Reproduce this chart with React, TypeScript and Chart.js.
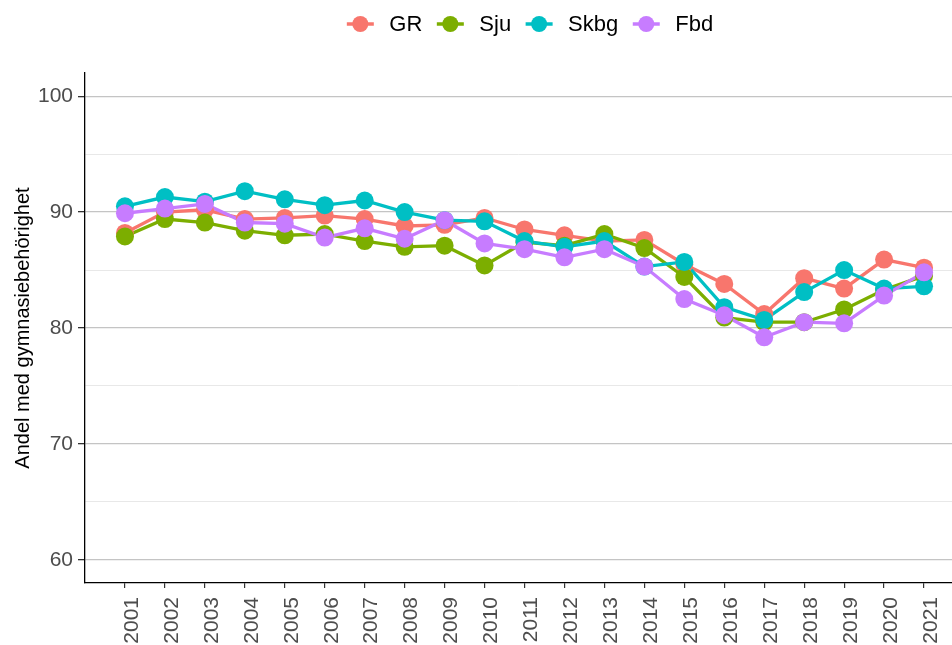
import React, { useEffect, useRef } from "react";
import { Chart, registerables } from "chart.js";

Chart.register(...registerables);

const years = [2001, 2002, 2003, 2004, 2005, 2006, 2007, 2008, 2009, 2010, 2011, 2012, 2013, 2014, 2015, 2016, 2017, 2018, 2019, 2020, 2021];
const seriesNames = ["GR", "Sju", "Skbg", "Fbd"];
const seriesColors = ["#F8766D", "#7CAE00", "#00BFC4", "#C77CFF"];
const grValues = [88.2, 90.0, 90.2, 89.4, 89.5, 89.7, 89.4, 88.8, 88.9, 89.5, 88.5, 88.0, 87.5, 87.6, 85.5, 83.8, 81.2, 84.3, 83.4, 85.9, 85.2];
const sjuValues = [87.9, 89.4, 89.1, 88.4, 88.0, 88.1, 87.5, 87.0, 87.1, 85.4, 87.4, 87.1, 88.1, 86.9, 84.4, 80.9, 80.5, 80.5, 81.6, 83.3, 84.5];
const skbgValues = [90.5, 91.3, 90.9, 91.8, 91.1, 90.6, 91.0, 90.0, 89.3, 89.2, 87.5, 87.0, 87.5, 85.3, 85.7, 81.8, 80.7, 83.1, 85.0, 83.4, 83.6];
const fbdValues = [89.9, 90.3, 90.7, 89.1, 89.0, 87.8, 88.6, 87.7, 89.3, 87.3, 86.8, 86.1, 86.8, 85.3, 82.5, 81.1, 79.2, 80.5, 80.4, 82.8, 84.8];
const yTickValues = [60, 65, 70, 75, 80, 85, 90, 95, 100];
const yAxisTitle = "Andel med gymnasiebehörighet";

const FONT = "'Liberation Sans', Arial, sans-serif";

const legendPlugin = {
  id: "ggLegend",
  afterDraw(chart: any) {
    const ctx = chart.ctx;
    ctx.save();
    ctx.font = `22px ${FONT}`;
    const keyHalf = 13.5;
    const keyToText = 29;
    const textToKey = 28;
    const widths = seriesNames.map((n) => ctx.measureText(n).width);
    let total = keyHalf;
    widths.forEach((w, i) => {
      total += keyToText + w + (i < widths.length - 1 ? textToKey : 0);
    });
    const centerX = 530;
    const y = 24;
    let cx = centerX - total / 2 + keyHalf;
    seriesNames.forEach((name, i) => {
      ctx.strokeStyle = seriesColors[i];
      ctx.lineWidth = 3.5;
      ctx.beginPath();
      ctx.moveTo(cx - keyHalf, y);
      ctx.lineTo(cx + keyHalf, y);
      ctx.stroke();
      ctx.fillStyle = seriesColors[i];
      ctx.beginPath();
      ctx.arc(cx, y, 8, 0, Math.PI * 2);
      ctx.fill();
      ctx.fillStyle = "#000";
      ctx.textAlign = "left";
      ctx.textBaseline = "middle";
      ctx.fillText(name, cx + keyToText, y + 1);
      cx += keyToText + widths[i] + textToKey;
    });
    ctx.restore();
  },
};

export default function App() {
  const canvasRef = useRef<HTMLCanvasElement | null>(null);

  useEffect(() => {
    document.body.style.margin = "0";
    document.body.style.overflow = "hidden";
    const canvas = canvasRef.current;
    if (!canvas) return;
    const allValues = [grValues, sjuValues, skbgValues, fbdValues];
    const toPoints = (vals: number[]) => years.map((yr, i) => ({ x: yr, y: vals[i] }));

    const lineSets = allValues.map((vals, i) => ({
      label: seriesNames[i] + "-line",
      data: toPoints(vals),
      borderColor: seriesColors[i],
      backgroundColor: seriesColors[i],
      borderWidth: 3.3,
      pointRadius: 0,
      pointHoverRadius: 0,
      tension: 0,
      fill: false,
      order: 10 - i,
    }));
    const pointSets = allValues.map((vals, i) => ({
      label: seriesNames[i],
      data: toPoints(vals),
      borderColor: seriesColors[i],
      backgroundColor: seriesColors[i],
      pointBackgroundColor: seriesColors[i],
      pointBorderWidth: 0,
      pointRadius: 9,
      pointHoverRadius: 9,
      showLine: false,
      order: 5 - i,
    }));

    const chart = new Chart(canvas, {
      type: "line",
      data: { datasets: [...lineSets, ...pointSets] as any },
      options: {
        responsive: false,
        devicePixelRatio: 1,
        animation: false,
        events: [],
        layout: { padding: { top: 73, left: 0, right: 0, bottom: 0 } },
        plugins: {
          legend: { display: false },
          tooltip: { enabled: false },
        },
        scales: {
          x: {
            type: "linear",
            min: 2000,
            max: 2021.7,
            afterBuildTicks: (s: any) => {
              s.ticks = years.map((v) => ({ value: v }));
            },
            afterFit: (s: any) => {
              s.height = 62;
            },
            ticks: {
              autoSkip: false,
              minRotation: 90,
              maxRotation: 90,
              labelOffset: 7,
              padding: 9,
              color: "#4d4d4d",
              font: { size: 21, family: FONT },
              callback: (v: any) => String(v),
            },
            grid: {
              drawOnChartArea: false,
              drawTicks: true,
              tickLength: 5,
              tickColor: "#333333",
              lineWidth: 1.2,
            },
            border: { color: "#000000", width: 1.3 },
          },
          y: {
            type: "linear",
            min: 58,
            max: 102,
            afterBuildTicks: (s: any) => {
              s.ticks = yTickValues.map((v) => ({ value: v }));
            },
            afterFit: (s: any) => {
              s.width = 85;
            },
            ticks: {
              padding: 5,
              color: "#4d4d4d",
              font: { size: 21, family: FONT },
              callback: (v: any) => (Number(v) % 10 === 0 ? String(v) : ""),
            },
            grid: {
              drawTicks: true,
              tickLength: 7,
              color: (c: any) => (c.tick && c.tick.value % 10 === 0 ? "#c4c4c4" : "#e8e8e8"),
              lineWidth: (c: any) => (c.tick && c.tick.value % 10 === 0 ? 1.3 : 1),
              tickColor: (c: any) => (c.tick && c.tick.value % 10 === 0 ? "#333333" : "rgba(0,0,0,0)"),
            },
            border: { color: "#000000", width: 1.3 },
            title: {
              display: true,
              text: yAxisTitle,
              color: "#000000",
              font: { size: 20, family: FONT },
              padding: { top: 11, bottom: 0 },
            },
          },
        },
      },
      plugins: [legendPlugin],
    });

    return () => {
      chart.destroy();
    };
  }, []);

  return (
    <div style={{ width: 952, height: 645, overflow: "hidden", background: "#ffffff" }}>
      <canvas ref={canvasRef} width={961} height={645} style={{ display: "block" }} />
    </div>
  );
}
